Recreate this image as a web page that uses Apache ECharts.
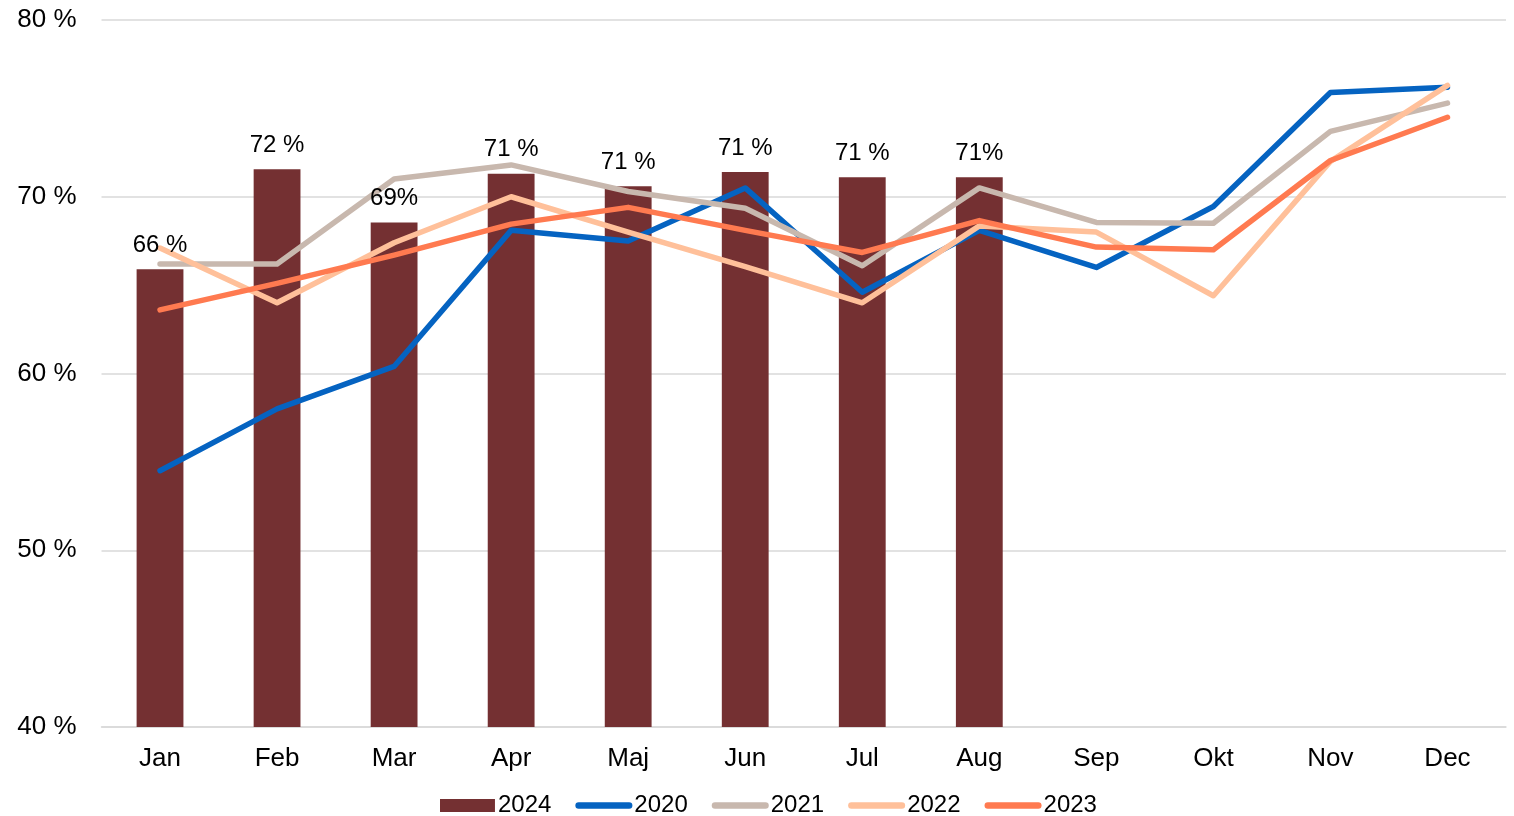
<!DOCTYPE html>
<html>
<head>
<meta charset="utf-8">
<script src="https://cdn.jsdelivr.net/npm/echarts@6/dist/echarts.min.js"></script>
<style>html,body{margin:0;padding:0;background:#fff;}#c{width:1514px;height:816px;}</style>
</head>
<body>
<div id="c"></div>
<script>
const months = ['Jan','Feb','Mar','Apr','Maj','Jun','Jul','Aug','Sep','Okt','Nov','Dec'];
const yTicks = [40, 50, 60, 70, 80];
const v2024 = [65.9, 71.55, 68.55, 71.3, 70.6, 71.4, 71.1, 71.1];
const labels2024 = ['66 %','72 %','69%','71 %','71 %','71 %','71 %','71%'];
const v2020 = [54.5, 58.0, 60.4, 68.1, 67.5, 70.5, 64.6, 68.1, 66.0, 69.45, 75.9, 76.2];
const v2021 = [66.2, 66.2, 71.0, 71.8, 70.3, 69.35, 66.1, 70.5, 68.55, 68.5, 73.7, 75.3];
const v2022 = [67.1, 64.0, 67.4, 70.0, 68.0, 66.05, 64.0, 68.35, 68.0, 64.4, 72.0, 76.3];
const v2023 = [63.6, 65.1, 66.7, 68.45, 69.4, 68.1, 66.85, 68.65, 67.15, 67.0, 72.05, 74.5];

const FONT = '"Liberation Sans", Arial, sans-serif';
const LINE_ICON = 'path://M3.25,0 H53.75 A3.25,3.25 0 0 1 53.75,6.5 H3.25 A3.25,3.25 0 0 1 3.25,0 Z';
const BAR_ICON = 'path://M0,0 H52 V12.3 H0 Z';
const chart = echarts.init(document.getElementById('c'));
function lineSeries(name, data, color) {
  return {
    name: name, type: 'line', data: data, symbol: 'none', smooth: false,
    lineStyle: { color: color, width: 5.5, cap: 'round', join: 'round' },
    itemStyle: { color: color },
    z: 3
  };
}
chart.setOption({
  animation: false,
  textStyle: { fontFamily: FONT },
  grid: { left: 101.5, right: 8, top: 20, bottom: 89, containLabel: false },
  xAxis: {
    type: 'category', data: months, boundaryGap: true,
    axisLine: { show: true, lineStyle: { color: '#D9D9D9', width: 1.5 } },
    axisTick: { show: false },
    axisLabel: { color: '#000', fontSize: 26, margin: 19, fontFamily: FONT }
  },
  yAxis: {
    type: 'value', min: yTicks[0], max: yTicks[yTicks.length - 1], interval: 10,
    axisLine: { show: false }, axisTick: { show: false },
    splitLine: { lineStyle: { color: '#D9D9D9', width: 1.5 } },
    axisLabel: { color: '#000', fontSize: 26, margin: 25, fontFamily: FONT, formatter: v => v + ' %' }
  },
  legend: {
    left: 440, top: 793.5, padding: 0,
    itemWidth: 57, itemHeight: 13, itemGap: 24,
    textStyle: { color: '#000', fontSize: 24, fontFamily: FONT, padding: [0, 0, 0, -3] },
    data: [
      { name: '2024', icon: BAR_ICON },
      { name: '2020', icon: LINE_ICON },
      { name: '2021', icon: LINE_ICON },
      { name: '2022', icon: LINE_ICON },
      { name: '2023', icon: LINE_ICON }
    ]
  },
  series: [
    {
      name: '2024', type: 'bar', data: v2024, barWidth: '40%',
      itemStyle: { color: '#743032' },
      z: 2
    },
    lineSeries('2020', v2020, '#0563C1'),
    lineSeries('2021', v2021, '#C8B8AE'),
    lineSeries('2022', v2022, '#FFC09A'),
    lineSeries('2023', v2023, '#FF7A50'),
    {
      name: '2024 labels', type: 'bar', data: v2024, barWidth: '40%', barGap: '-100%',
      itemStyle: { color: 'rgba(0,0,0,0)' }, silent: true,
      label: {
        show: true, position: 'top', distance: 12, color: '#000', fontSize: 24, fontFamily: FONT,
        formatter: p => labels2024[p.dataIndex]
      },
      z: 5
    }
  ]
});
</script>
</body>
</html>
